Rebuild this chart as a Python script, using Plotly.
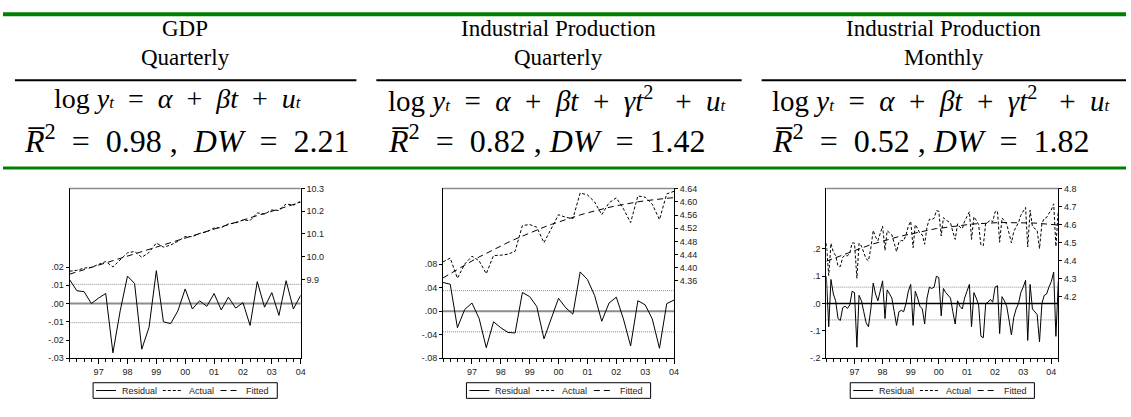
import plotly.graph_objects as go
import pandas as pd

W, H = 1131, 417

# ---------------- data ----------------
gdp_dates = [d.strftime("%Y-%m-%d") for d in pd.date_range("1996-01-01", periods=33, freq="QS")]
ipq_dates = gdp_dates
ipm_dates = [d.strftime("%Y-%m-%d") for d in pd.date_range("1996-01-01", periods=100, freq="MS")]

year_ticks = ["1997-01-01", "1998-01-01", "1999-01-01", "2000-01-01",
              "2001-01-01", "2002-01-01", "2003-01-01", "2004-01-01"]
year_labels = ["97", "98", "99", "00", "01", "02", "03", "04"]

gdp_residual = [0.013, 0.007, 0.0065, 0.0, 0.003, 0.0055, -0.027, -0.004, 0.015, 0.011, -0.025,
                -0.013, 0.018, -0.010, -0.011, -0.004, 0.008, -0.003, 0.0015, -0.0015, 0.0055,
                -0.0035, 0.0035, -0.0025, 0.0005, -0.012, 0.012, -0.002, 0.006, -0.0065, 0.0125,
                -0.003, 0.0045]
gdp_fitted = [9.923, 9.933, 9.943, 9.953, 9.963, 9.973, 9.982, 9.992, 10.002, 10.012, 10.022,
              10.032, 10.042, 10.052, 10.062, 10.072, 10.081, 10.091, 10.101, 10.111, 10.121,
              10.131, 10.141, 10.151, 10.161, 10.171, 10.181, 10.190, 10.200, 10.210, 10.220,
              10.230, 10.240]
gdp_actual = [9.936, 9.940, 9.9495, 9.953, 9.966, 9.9785, 9.955, 9.988, 10.017, 10.023, 9.997,
              10.019, 10.060, 10.042, 10.051, 10.068, 10.089, 10.088, 10.1025, 10.1095, 10.1265,
              10.1275, 10.1445, 10.1485, 10.1615, 10.159, 10.193, 10.188, 10.206, 10.2035, 10.2325,
              10.227, 10.2445]
gdp_se = 0.0105

ipq_residual = [0.049, 0.046, -0.028, 0.003, 0.014, -0.012, -0.062, -0.018, -0.028, -0.036, -0.037,
                0.032, 0.025, 0.008, -0.047, -0.011, 0.022, 0.006, -0.005, 0.067, 0.054, 0.027,
                -0.017, 0.014, 0.024, -0.013, -0.059, 0.018, 0.011, -0.013, -0.063, 0.013, 0.019]
ipq_fitted = [4.369, 4.3825, 4.3956, 4.4083, 4.4206, 4.4326, 4.4442, 4.4554, 4.4662, 4.4766, 4.4867,
              4.4964, 4.5057, 4.5146, 4.5232, 4.5314, 4.5392, 4.5466, 4.5536, 4.5603, 4.5666, 4.5725,
              4.5780, 4.5832, 4.5880, 4.5924, 4.5964, 4.6000, 4.6033, 4.6062, 4.6087, 4.6108, 4.6126]
ipq_actual = [4.418, 4.429, 4.368, 4.411, 4.435, 4.421, 4.382, 4.437, 4.438, 4.441, 4.450, 4.528,
              4.531, 4.523, 4.476, 4.520, 4.561, 4.553, 4.549, 4.627, 4.621, 4.600, 4.561, 4.597,
              4.612, 4.579, 4.537, 4.618, 4.614, 4.593, 4.546, 4.624, 4.632]
ipq_se = 0.035

ipm_residual = [0.10, -0.085, 0.088, 0.035, 0.01, -0.055, -0.062, -0.015, -0.01, -0.018,
                -0.005, 0.045, 0.04, -0.16, 0.03, 0.01, -0.03, -0.07, -0.085, -0.02,
                0.075, 0.035, 0.01, 0.05, 0.083, -0.055, 0.05, 0.035, 0.02, -0.03,
                -0.08, -0.03, -0.025, -0.03, 0.0, 0.045, 0.07, -0.08, 0.045, 0.02,
                -0.01, -0.02, -0.075, 0.02, 0.06, 0.055, 0.06, 0.1, 0.095, -0.045,
                0.055, 0.04, 0.03, 0.02, -0.03, -0.075, 0.01, -0.01, -0.02, 0.02,
                0.045, 0.07, -0.085, 0.04, 0.02, -0.005, -0.12, -0.125, 0.0, 0.005,
                0.015, 0.005, 0.06, 0.065, -0.11, 0.025, 0.01, -0.01, -0.06, -0.115,
                -0.05, -0.02, 0.0, 0.04, 0.06, 0.085, -0.135, 0.07, -0.02, -0.03,
                -0.04, -0.14, 0.0, 0.03, 0.035, 0.06, 0.08, 0.115, -0.12, 0.08]
ipm_fitted = [4.396, 4.401, 4.407, 4.412, 4.417, 4.423, 4.428, 4.433, 4.438, 4.443,
              4.447, 4.452, 4.457, 4.461, 4.466, 4.470, 4.475, 4.479, 4.483, 4.488,
              4.492, 4.496, 4.500, 4.504, 4.508, 4.511, 4.515, 4.519, 4.522, 4.526,
              4.529, 4.533, 4.536, 4.539, 4.542, 4.545, 4.548, 4.551, 4.554, 4.557,
              4.560, 4.562, 4.565, 4.567, 4.570, 4.572, 4.575, 4.577, 4.579, 4.581,
              4.583, 4.585, 4.587, 4.589, 4.590, 4.592, 4.594, 4.595, 4.597, 4.598,
              4.600, 4.601, 4.602, 4.603, 4.604, 4.605, 4.606, 4.607, 4.608, 4.608,
              4.609, 4.610, 4.610, 4.610, 4.611, 4.611, 4.611, 4.612, 4.612, 4.612,
              4.612, 4.611, 4.611, 4.611, 4.611, 4.610, 4.610, 4.609, 4.609, 4.608,
              4.607, 4.606, 4.605, 4.604, 4.603, 4.602, 4.601, 4.600, 4.598, 4.597]
ipm_actual = [4.496, 4.316, 4.495, 4.447, 4.427, 4.368, 4.366, 4.418, 4.428, 4.425,
              4.442, 4.497, 4.497, 4.301, 4.496, 4.480, 4.445, 4.409, 4.398, 4.468,
              4.567, 4.531, 4.510, 4.554, 4.591, 4.456, 4.565, 4.554, 4.542, 4.496,
              4.449, 4.503, 4.511, 4.509, 4.542, 4.590, 4.618, 4.471, 4.599, 4.577,
              4.550, 4.542, 4.490, 4.587, 4.630, 4.627, 4.635, 4.677, 4.674, 4.536,
              4.638, 4.625, 4.617, 4.609, 4.560, 4.517, 4.604, 4.585, 4.577, 4.618,
              4.645, 4.671, 4.517, 4.643, 4.624, 4.600, 4.486, 4.482, 4.608, 4.613,
              4.624, 4.615, 4.670, 4.675, 4.501, 4.636, 4.621, 4.602, 4.552, 4.497,
              4.562, 4.591, 4.611, 4.651, 4.671, 4.695, 4.475, 4.679, 4.589, 4.578,
              4.567, 4.466, 4.605, 4.634, 4.638, 4.662, 4.681, 4.715, 4.478, 4.677]
ipm_se = 0.06

headers = [["GDP", "Quarterly"],
           ["Industrial Production", "Quarterly"],
           ["Industrial Production", "Monthly"]]
r2_values = ["0.98", "0.82", "0.52"]
dw_values = ["2.21", "1.42", "1.82"]
legend_names = ["Residual", "Actual", "Fitted"]

gdp_left_ticks = [-0.03, -0.02, -0.01, 0.0, 0.01, 0.02]
gdp_left_text = ["-.03", "-.02", "-.01", ".00", ".01", ".02"]
gdp_right_ticks = [9.9, 10.0, 10.1, 10.2, 10.3]
gdp_right_text = ["9.9", "10.0", "10.1", "10.2", "10.3"]
ipq_left_ticks = [-0.08, -0.04, 0.0, 0.04, 0.08]
ipq_left_text = ["-.08", "-.04", ".00", ".04", ".08"]
ipq_right_ticks = [4.36, 4.40, 4.44, 4.48, 4.52, 4.56, 4.60, 4.64]
ipq_right_text = ["4.36", "4.40", "4.44", "4.48", "4.52", "4.56", "4.60", "4.64"]
ipm_left_ticks = [-0.2, -0.1, 0.0, 0.1, 0.2]
ipm_left_text = ["-.2", "-.1", ".0", ".1", ".2"]
ipm_right_ticks = [4.2, 4.3, 4.4, 4.5, 4.6, 4.7, 4.8]
ipm_right_text = ["4.2", "4.3", "4.4", "4.5", "4.6", "4.7", "4.8"]

# ---------------- layout helpers ----------------
def px(xp):
    return xp / W

def py(yp):
    return 1 - yp / H

GREEN = "#008000"
TICKFONT = dict(family="Liberation Sans, Arial", size=9, color="#222")
SERIF = "Liberation Serif, Times New Roman, serif"

charts = [
    dict(x=gdp_dates, res=gdp_residual, act=gdp_actual, fit=gdp_fitted, se=gdp_se,
         xpx=(70, 302), xr=["1996-01-01", "2004-01-01"],
         lr=[-0.03, 0.063], lt=gdp_left_ticks, ltt=gdp_left_text,
         rr=[9.552, 10.3005], rt=gdp_right_ticks, rtt=gdp_right_text,
         zc="#8c8c8c", zw=2),
    dict(x=ipq_dates, res=ipq_residual, act=ipq_actual, fit=ipq_fitted, se=ipq_se,
         xpx=(445, 677), xr=["1996-01-01", "2004-01-01"],
         lr=[-0.0801, 0.209], lt=ipq_left_ticks, ltt=ipq_left_text,
         rr=[4.125, 4.6405], rt=ipq_right_ticks, rtt=ipq_right_text,
         zc="#8c8c8c", zw=2),
    dict(x=ipm_dates, res=ipm_residual, act=ipm_actual, fit=ipm_fitted, se=ipm_se,
         xpx=(830, 1063), xr=["1996-01-01", "2004-04-01"],
         lr=[-0.2005, 0.421], lt=ipm_left_ticks, ltt=ipm_left_text,
         rr=[3.855, 4.8005], rt=ipm_right_ticks, rtt=ipm_right_text,
         zc="#000000", zw=1.5),
]

TOP, BOT = 188, 362
ydom = [py(BOT), py(TOP)]

fig = go.Figure()
layout = dict(width=W, height=H, margin=dict(l=0, r=0, t=0, b=0),
              paper_bgcolor="white", plot_bgcolor="white", showlegend=False)
shapes = []
annotations = []

for i, c in enumerate(charts):
    n = i + 1
    xname = "xaxis" if n == 1 else f"xaxis{n}"
    xref = "x" if n == 1 else f"x{n}"
    ly = 2 * i + 1
    ry = 2 * i + 2
    lyname = "yaxis" if ly == 1 else f"yaxis{ly}"
    lyref = "y" if ly == 1 else f"y{ly}"
    ryname = f"yaxis{ry}"
    ryref = f"y{ry}"

    fig.add_trace(go.Scatter(x=c["x"], y=c["res"], mode="lines", name="Residual",
                             line=dict(color="black", width=1), xaxis=xref, yaxis=lyref))
    fig.add_trace(go.Scatter(x=c["x"], y=c["act"], mode="lines", name="Actual",
                             line=dict(color="black", width=1, dash="3px,2px"), xaxis=xref, yaxis=ryref))
    fig.add_trace(go.Scatter(x=c["x"], y=c["fit"], mode="lines", name="Fitted",
                             line=dict(color="black", width=1, dash="6px,4px"), xaxis=xref, yaxis=ryref))

    layout[xname] = dict(domain=[px(c["xpx"][0]), px(c["xpx"][1])], anchor=lyref, type="date",
                         range=c["xr"], tickmode="array", tickvals=year_ticks, ticktext=year_labels,
                         ticks="outside", ticklen=5, tickcolor="black",
                         showline=True, linecolor="black", linewidth=1, showgrid=False,
                         zeroline=False, tickfont=TICKFONT,
                         minor=dict(tick0="1996-01-01", dtick="M3", ticks="outside",
                                    ticklen=3, tickcolor="black", showgrid=False))
    layout[lyname] = dict(domain=ydom, anchor=xref, range=c["lr"], tickmode="array",
                          tickvals=c["lt"], ticktext=c["ltt"], ticks="outside", ticklen=3,
                          tickcolor="black", showline=True, linecolor="black", linewidth=1,
                          showgrid=False, zeroline=False, tickfont=TICKFONT)
    layout[ryname] = dict(overlaying=lyref, side="right", anchor=xref, range=c["rr"],
                          tickmode="array", tickvals=c["rt"], ticktext=c["rtt"],
                          ticks="outside", ticklen=3, tickcolor="black", showline=True,
                          linecolor="black", linewidth=1, showgrid=False, zeroline=False,
                          tickfont=TICKFONT)

    # top frame line
    shapes.append(dict(type="line", xref="paper", yref="paper",
                       x0=px(c["xpx"][0]), x1=px(c["xpx"][1]), y0=py(TOP), y1=py(TOP),
                       line=dict(color="#8c8c8c", width=1.5)))
    # zero and +/- s.e. lines
    shapes.append(dict(type="line", xref=f"{xref} domain", yref=lyref, x0=0, x1=1, y0=0, y1=0,
                       line=dict(color=c["zc"], width=c["zw"]), layer="below"))
    for s in (c["se"], -c["se"]):
        shapes.append(dict(type="line", xref=f"{xref} domain", yref=lyref, x0=0, x1=1, y0=s, y1=s,
                           line=dict(color="#8a8a8a", width=1, dash="1px,1px"), layer="below"))

    # legend box
    cx = (c["xpx"][0] + c["xpx"][1]) / 2
    bl = cx - 92.5
    shapes.append(dict(type="rect", xref="paper", yref="paper", x0=px(bl), x1=px(bl + 185),
                       y0=py(403), y1=py(387), line=dict(color="black", width=1)))
    samples = [(3, 23, "solid", 27), (70, 89, "3px,2px", 94), (128, 148, "6px,4px", 152)]
    for (a, b, d, t), name in zip(samples, legend_names):
        shapes.append(dict(type="line", xref="paper", yref="paper", x0=px(bl + a), x1=px(bl + b),
                           y0=py(395), y1=py(395), line=dict(color="black", width=1, dash=d)))
        annotations.append(dict(xref="paper", yref="paper", x=px(bl + t), y=py(395.5), text=name,
                                showarrow=False, xanchor="left", yanchor="middle",
                                font=dict(family="Liberation Sans, Arial", size=9, color="#222")))

# ---------------- header table ----------------
shapes.append(dict(type="line", xref="paper", yref="paper", x0=px(3), x1=px(1131),
                   y0=py(9.5), y1=py(9.5), line=dict(color=GREEN, width=4)))
shapes.append(dict(type="line", xref="paper", yref="paper", x0=px(3), x1=px(1131),
                   y0=py(167), y1=py(167), line=dict(color=GREEN, width=3)))
for a, b in [(15, 358), (378, 745), (765, 1131)]:
    shapes.append(dict(type="line", xref="paper", yref="paper", x0=px(a), x1=px(b),
                       y0=py(77), y1=py(77), line=dict(color="black", width=2)))

col_centers = [186, 561, 948]
for cxp, (h1, h2) in zip(col_centers, headers):
    annotations.append(dict(xref="paper", yref="paper", x=px(cxp), y=py(24), text=h1,
                            showarrow=False, xanchor="center", yanchor="middle",
                            font=dict(family=SERIF, size=23, color="black")))
    annotations.append(dict(xref="paper", yref="paper", x=px(cxp), y=py(54), text=h2,
                            showarrow=False, xanchor="center", yanchor="middle",
                            font=dict(family=SERIF, size=23, color="black")))

NB = "\u00a0"
SP = NB * 2
SUBT = "<span style='font-size:17px'><i>t</i></span>"
eq_linear = (f"log{NB}<i>y</i>{SUBT}{SP}={SP}<i>α</i>{SP}+{SP}<i>β</i><i>t</i>"
             f"{SP}+{SP}<i>u</i>{SUBT}")
eq_quad = (f"log{NB}<i>y</i>{SUBT}{SP}={SP}<i>α</i>{SP}+{SP}<i>β</i><i>t</i>{SP}+{SP}"
           f"<i>γ</i><i>t</i><sup>2</sup>{SP}{NB}+{SP}<i>u</i>{SUBT}")
eqs = [eq_linear, eq_quad, eq_quad]
eq_x = [52, 388, 773]
st_x = [22, 388, 773]
eq_size = [28, 29, 29]
for k in range(3):
    annotations.append(dict(xref="paper", yref="paper", x=px(eq_x[k]), y=py(96), text=eqs[k],
                            showarrow=False, xanchor="left", yanchor="middle",
                            font=dict(family=SERIF, size=eq_size[k], color="black")))
    sep = f"{NB},{SP}" if k == 0 else f"{NB},{NB}"
    st = (f"<i>R\u0305</i><sup>2</sup>{SP}={SP}{r2_values[k]}{sep}"
          f"<i>DW</i>{SP}={SP}{dw_values[k]}")
    annotations.append(dict(xref="paper", yref="paper", x=px(st_x[k]), y=py(137), text=st,
                            showarrow=False, xanchor="left", yanchor="middle",
                            font=dict(family=SERIF, size=32, color="black")))

layout["shapes"] = shapes
layout["annotations"] = annotations
fig.update_layout(**layout)
fig.write_html("out.html", config={"displayModeBar": False},
               post_script="document.body.style.margin='0px';document.body.style.overflow='hidden';")
